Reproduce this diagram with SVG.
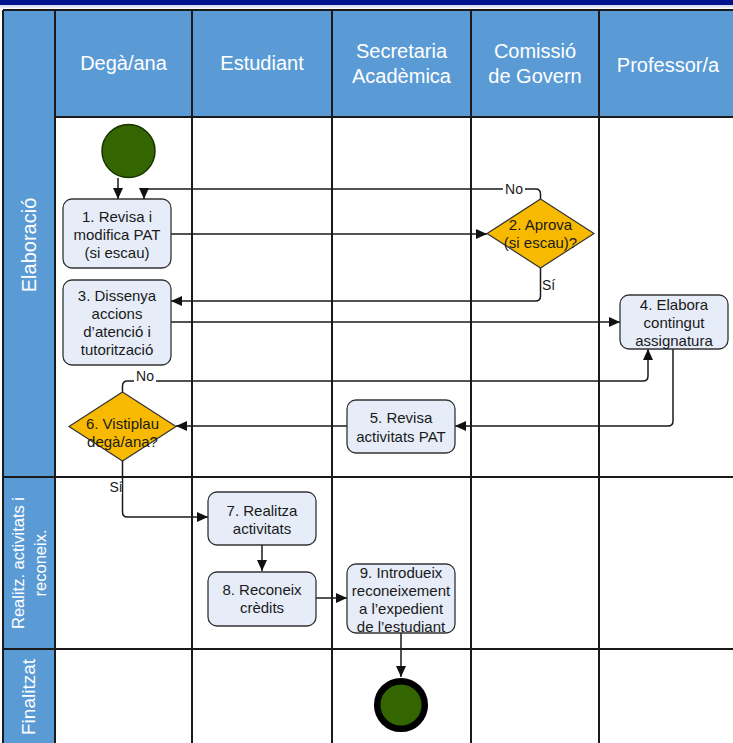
<svg xmlns="http://www.w3.org/2000/svg" width="733" height="743" viewBox="0 0 733 743">
<defs>
<style>
.hdr{fill:#5b9bd5}
.grid{stroke:#1a1a1a;stroke-width:2;fill:none}
.ht{font-family:"Liberation Sans",Arial,sans-serif;font-size:20px;fill:#ffffff;text-anchor:middle}
.lt{font-family:"Liberation Sans",Arial,sans-serif;fill:#ffffff;text-anchor:middle}
.box{fill:#e6edf8;stroke:#333333;stroke-width:1.3}
.dia{fill:#f7ba00;stroke:#333333;stroke-width:1.2}
.nt{font-family:"Liberation Sans",Arial,sans-serif;font-size:15px;fill:#1a1a1a;text-anchor:middle;dominant-baseline:central}
.con{fill:none;stroke:#1a1a1a;stroke-width:1.5}
.lab{font-family:"Liberation Sans",Arial,sans-serif;font-size:14px;fill:#1a1a1a;dominant-baseline:central}
</style>
<marker id="ah" markerWidth="12" markerHeight="10" refX="11" refY="5" orient="auto" markerUnits="userSpaceOnUse">
<path d="M0,0 L11,5 L0,10 Z" fill="#111111"/>
</marker>
</defs>
<rect x="0" y="0" width="733" height="743" fill="#ffffff"/>
<rect x="0" y="0" width="733" height="5" fill="#00138c"/>
<rect x="0" y="5" width="733" height="2.5" fill="#d6dcf2"/>
<g id="pool">
<rect class="hdr" x="3" y="10" width="730" height="107"/>
<rect class="hdr" x="3" y="10" width="52" height="733"/>
<path class="grid" d="M3,10 H733 M3,10 V743 M55,10 V743 M192,10 V743 M332,10 V743 M471,10 V743 M599,10 V743 M55,117 H733 M3,477 H733 M3,649 H733"/>
<text class="ht" x="123.5" y="70">Degà/ana</text>
<text class="ht" x="262" y="70">Estudiant</text>
<text class="ht" x="401.5" y="58">Secretaria</text>
<text class="ht" x="401.5" y="83">Acadèmica</text>
<text class="ht" x="535" y="58">Comissió</text>
<text class="ht" x="535" y="83">de Govern</text>
<text class="ht" x="668" y="72">Professor/a</text>
<text class="lt" font-size="20" transform="translate(36,245) rotate(-90)">Elaboració</text>
<text class="lt" font-size="16.5" transform="translate(24,563) rotate(-90)">Realitz. activitats i</text>
<text class="lt" font-size="16.5" transform="translate(46,563) rotate(-90)">reconeix.</text>
<text class="lt" font-size="19" transform="translate(35,697) rotate(-90)">Finalitzat</text>
</g>
<g id="connectors">
<path class="con" marker-end="url(#ah)" d="M118,178 V199"/>
<path class="con" marker-end="url(#ah)" d="M171,234 H487"/>
<path class="con" marker-end="url(#ah)" d="M540.5,199 V194 Q540.5,189 535.5,189 H144 V199"/>
<path class="con" marker-end="url(#ah)" d="M540.5,268 V296 Q540.5,301 535.5,301 H171"/>
<path class="con" marker-end="url(#ah)" d="M171,322 H620"/>
<path class="con" marker-end="url(#ah)" d="M673,349 V421 Q673,426 668,426 H455"/>
<path class="con" marker-end="url(#ah)" d="M347,426 H176"/>
<path class="con" marker-end="url(#ah)" d="M122.5,392 V386 Q122.5,381 127.5,381 H643 Q648,381 648,376 V349"/>
<path class="con" marker-end="url(#ah)" d="M122.5,461 V512 Q122.5,517 127.5,517 H208"/>
<path class="con" marker-end="url(#ah)" d="M262,545 V571"/>
<path class="con" marker-end="url(#ah)" d="M316,598 H347"/>
<path class="con" marker-end="url(#ah)" d="M401,633 V677"/>
<rect x="503" y="182" width="22" height="14" fill="#ffffff"/>
<text class="lab" x="514" y="189" text-anchor="middle">No</text>
<rect x="542" y="278" width="13" height="14" fill="#ffffff"/>
<text class="lab" x="542" y="285">Sí</text>
<rect x="134" y="369" width="22" height="14" fill="#ffffff"/>
<text class="lab" x="145" y="376" text-anchor="middle">No</text>
<rect x="109" y="480" width="13" height="14" fill="#ffffff"/>
<text class="lab" x="116" y="487" text-anchor="middle">Sí</text>
</g>
<g id="start">
<circle cx="128.5" cy="151" r="26.5" fill="#336600" stroke="#1a3300" stroke-width="1.5"/>
</g>
<g id="n1">
<rect class="box" x="63" y="199" width="108" height="69" rx="9"/>
<text class="nt" x="117" y="216">1. Revisa i</text>
<text class="nt" x="117" y="234">modifica PAT</text>
<text class="nt" x="117" y="252">(si escau)</text>
</g>
<g id="n2">
<polygon class="dia" points="540.5,199 594,233.5 540.5,268 487,233.5"/>
<text class="nt" x="540.5" y="224">2. Aprova</text>
<text class="nt" x="540.5" y="242">(si escau)?</text>
</g>
<g id="n3">
<rect class="box" x="63" y="280" width="108" height="85" rx="9"/>
<text class="nt" x="117" y="295">3. Dissenya</text>
<text class="nt" x="117" y="313">accions</text>
<text class="nt" x="117" y="331">d’atenció i</text>
<text class="nt" x="117" y="349">tutorització</text>
</g>
<g id="n4">
<rect class="box" x="620" y="295" width="108" height="54" rx="9"/>
<text class="nt" x="674" y="304">4. Elabora</text>
<text class="nt" x="674" y="322">contingut</text>
<text class="nt" x="674" y="340">assignatura</text>
</g>
<g id="n5">
<rect class="box" x="347" y="400" width="108" height="53" rx="9"/>
<text class="nt" x="401" y="417">5. Revisa</text>
<text class="nt" x="401" y="436">activitats PAT</text>
</g>
<g id="n6">
<polygon class="dia" points="122.5,392 176,426.5 122.5,461 69,426.5"/>
<text class="nt" x="122.5" y="423">6. Vistiplau</text>
<text class="nt" x="122.5" y="441">degà/ana?</text>
</g>
<g id="n7">
<rect class="box" x="208" y="492" width="108" height="53" rx="9"/>
<text class="nt" x="262" y="510">7. Realitza</text>
<text class="nt" x="262" y="528">activitats</text>
</g>
<g id="n8">
<rect class="box" x="208" y="572" width="108" height="54" rx="9"/>
<text class="nt" x="262" y="589">8. Reconeix</text>
<text class="nt" x="262" y="607">crèdits</text>
</g>
<g id="n9">
<rect class="box" x="347" y="564" width="108" height="69" rx="9"/>
<text class="nt" x="401" y="572">9. Introdueix</text>
<text class="nt" x="401" y="590">reconeixement</text>
<text class="nt" x="401" y="608">a l’expedient</text>
<text class="nt" x="401" y="626">de l’estudiant</text>
</g>
<g id="end">
<circle cx="401" cy="705" r="23.8" fill="#336600" stroke="#000000" stroke-width="6.5"/>
</g>
</svg>
